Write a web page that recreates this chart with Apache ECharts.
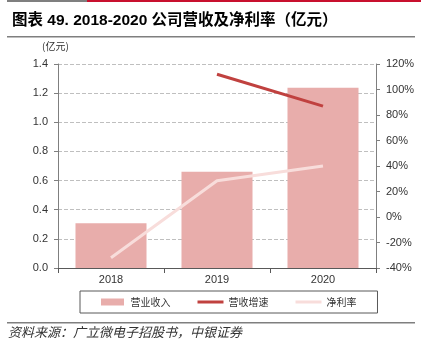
<!DOCTYPE html>
<html>
<head>
<meta charset="utf-8">
<script src="https://cdn.jsdelivr.net/npm/echarts@6/dist/echarts.min.js"></script>
<style>
html,body{margin:0;padding:0;background:#fff;}
#main{width:421px;height:352px;}
</style>
</head>
<body>
<div id="main"></div>
<script>
// 数据
var years = ['2018', '2019', '2020'];
var revenue = [0.307, 0.661, 1.237];      // 营业收入（亿元）
var revenueGrowth = [null, 112, 87];       // 营收增速 %
var netMargin = [-32, 28.5, 40];           // 净利率 %

var cjk = '"Liberation Sans", "Noto Sans CJK SC", sans-serif';

var myChart = echarts.init(document.getElementById('main'));
var option = {
    backgroundColor: '#fff',
    animation: false,
    textStyle: { fontFamily: cjk },
    title: {
        text: '图表 49. 2018-2020 公司营收及净利率（亿元）',
        left: 7,
        top: 8,
        textStyle: { fontSize: 15.5, fontWeight: 'bold', color: '#000', fontFamily: cjk }
    },
    graphic: [
        { type: 'rect', shape: { x: 7, y: 0, width: 80, height: 2 }, style: { fill: '#7f7f7f' } },
        { type: 'rect', shape: { x: 87, y: 0, width: 334, height: 2 }, style: { fill: '#c8102e' } },
        { type: 'rect', shape: { x: 7, y: 36, width: 408, height: 1.5 }, style: { fill: '#7f7f7f' } },
        { type: 'rect', shape: { x: 7, y: 322, width: 408, height: 1.5 }, style: { fill: '#7f7f7f' } },
        {
            type: 'text', left: 8, top: 326,
            style: { text: '资料来源：广立微电子招股书，中银证券', fill: '#333', font: 'italic 13px "Noto Sans CJK SC"' }
        },
        {
            type: 'text', left: 42, top: 41,
            style: { text: '(亿元)', fill: '#333', font: '10px "Noto Sans CJK SC"' }
        }
    ],
    legend: {
        left: 80,
        top: 291,
        padding: [6, 21],
        itemGap: 27,
        itemWidth: 26,
        itemHeight: 7,
        borderColor: '#595959',
        borderWidth: 1,
        textStyle: { fontSize: 10, color: '#333', fontFamily: '"Noto Sans CJK SC"' },
        data: [
            { name: '营业收入', icon: 'path://M0,0H23V7H0Z' },
            { name: '营收增速', icon: 'path://M0,0H26V3H0Z' },
            { name: '净利率', icon: 'path://M0,0H26V3H0Z' }
        ]
    },
    grid: { left: 58, right: 45, top: 64, bottom: 84 },
    xAxis: {
        type: 'category',
        data: years,
        axisLine: { lineStyle: { color: '#595959' } },
        axisTick: { show: true, alignWithLabel: false, lineStyle: { color: '#595959' } },
        axisLabel: { fontSize: 11, color: '#333', margin: 6 }
    },
    yAxis: [
        {
            type: 'value',
            min: 0, max: 1.4, interval: 0.2,
            axisLine: { show: true, lineStyle: { color: '#7f7f7f' } },
            axisTick: { show: true, length: 4, lineStyle: { color: '#7f7f7f' } },
            axisLabel: { fontSize: 11, color: '#333', margin: 10, formatter: function (v) { return v.toFixed(1); } },
            splitLine: { show: true, lineStyle: { color: '#bfbfbf', type: 'dashed' } }
        },
        {
            type: 'value',
            min: -40, max: 120, interval: 20,
            axisLine: { show: true, lineStyle: { color: '#7f7f7f' } },
            axisTick: { show: true, length: 4, lineStyle: { color: '#7f7f7f' } },
            axisLabel: { fontSize: 11, color: '#333', margin: 10, formatter: '{value}%' },
            splitLine: { show: false }
        }
    ],
    series: [
        {
            name: '营业收入',
            type: 'bar',
            data: revenue,
            barWidth: '67%',
            itemStyle: { color: '#e8adab' }
        },
        {
            name: '营收增速',
            type: 'line',
            yAxisIndex: 1,
            data: revenueGrowth,
            symbol: 'none',
            lineStyle: { width: 3, color: '#c0413f' },
            itemStyle: { color: '#c0413f' }
        },
        {
            name: '净利率',
            type: 'line',
            yAxisIndex: 1,
            data: netMargin,
            symbol: 'none',
            lineStyle: { width: 3, color: '#f8dddb' },
            itemStyle: { color: '#f8dddb' }
        }
    ]
};
myChart.setOption(option);
</script>
</body>
</html>
